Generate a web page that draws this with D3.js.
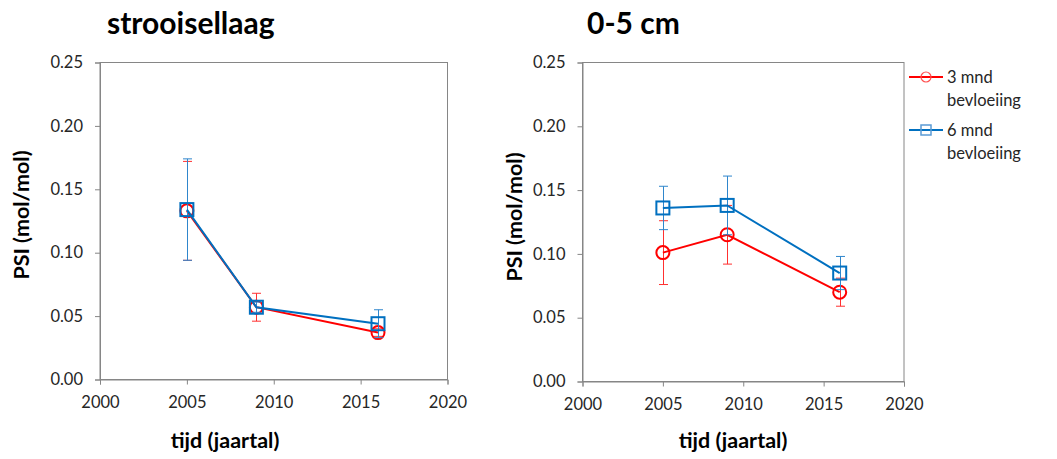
<!DOCTYPE html>
<html>
<head>
<meta charset="utf-8">
<script src="https://cdn.jsdelivr.net/npm/d3@7"></script>
<style>
  html, body { margin: 0; padding: 0; background: #fff; }
  svg { display: block; }
  text { font-family: Lato, "Open Sans", sans-serif; }
</style>
</head>
<body>
<svg id="chart" width="1057" height="459"></svg>
<script>
// ---- data ----
const years = [2005, 2009, 2016];
const xTicks = [2000, 2005, 2010, 2015, 2020];
const yTicks = [0, 0.05, 0.10, 0.15, 0.20, 0.25];
const seriesNames = ["3 mnd\nbevloeiing", "6 mnd\nbevloeiing"];

const strooiRed = [0.133, 0.057, 0.037];
const strooiRedErr = [0.039, 0.011, 0.003];
const strooiBlue = [0.134, 0.057, 0.044];
const strooiBlueErr = [0.040, 0.004, 0.011];

const cmRed = [0.101, 0.115, 0.070];
const cmRedErr = [0.025, 0.023, 0.011];
const cmBlue = [0.136, 0.138, 0.085];
const cmBlueErr = [0.017, 0.023, 0.013];

const RED = "#ff0000", BLUE = "#0070c0", FRAME = "#868686";
const RED_ERR = "#ff3030", BLUE_ERR = "#2f86cc";

const svg = d3.select("#chart");

function panel(cfg) {
  const g = svg.append("g");
  const x = d3.scaleLinear().domain([2000, 2020]).range([cfg.left, cfg.right]);
  const y = d3.scaleLinear().domain([0, 0.25]).range([cfg.bottom, cfg.top]);

  // frame
  g.append("rect").attr("x", cfg.left).attr("y", cfg.top)
    .attr("width", cfg.right - cfg.left).attr("height", cfg.bottom - cfg.top)
    .attr("fill", "none").attr("stroke", FRAME).attr("stroke-width", 1);

  const yAx = g.append("g").attr("transform", `translate(${cfg.left},0)`)
    .call(d3.axisLeft(y).tickValues(yTicks).tickFormat(d3.format(".2f")).tickSize(5).tickPadding(12));
  const xAx = g.append("g").attr("transform", `translate(0,${cfg.bottom})`)
    .call(d3.axisBottom(x).tickValues(xTicks).tickFormat(d3.format("d")).tickSize(5).tickPadding(12));
  [yAx, xAx].forEach(a => {
    a.select(".domain").attr("stroke", FRAME);
    a.selectAll(".tick line").attr("stroke", FRAME);
    a.selectAll(".tick text").attr("fill", "#262626").style("font-size", "16.5px")
      .style("font-family", "Lato, 'Open Sans', sans-serif");
  });

  // titles
  g.append("text").attr("x", cfg.titleX).attr("y", 34)
    .style("font-size", "30px").style("font-weight", "bold").attr("fill", "#000")
    .text(cfg.title);
  g.append("text").attr("x", cfg.xTitleX).attr("y", 448)
    .attr("text-anchor", "middle").style("font-size", "21.5px").style("font-weight", "bold")
    .text("tijd (jaartal)");
  g.append("text").attr("transform", `translate(${cfg.yTitleX},${cfg.yTitleY}) rotate(-90)`)
    .attr("text-anchor", "middle").style("font-size", "21.5px").style("font-weight", "bold")
    .text("PSI (mol/mol)");

  const series = [
    { vals: cfg.red, err: cfg.redErr, color: RED, errColor: RED_ERR, shape: "circle" },
    { vals: cfg.blue, err: cfg.blueErr, color: BLUE, errColor: BLUE_ERR, shape: "square" }
  ];
  const line = d3.line().x(d => x(d.yr)).y(d => y(d.v));
  series.forEach(s => {
    const pts = years.map((yr, i) => ({ yr, v: s.vals[i], e: s.err[i] }));
    const sg = g.append("g");
    // error bars
    pts.forEach(p => {
      const cx = Math.round(x(p.yr)) + 0.5;
      sg.append("line").attr("x1", cx).attr("x2", cx).attr("y1", y(p.v - p.e)).attr("y2", y(p.v + p.e))
        .attr("stroke", s.errColor).attr("stroke-width", 1);
      [p.v - p.e, p.v + p.e].forEach(v => {
        sg.append("line").attr("x1", cx - 4.5).attr("x2", cx + 4.5).attr("y1", y(v)).attr("y2", y(v))
          .attr("stroke", s.errColor).attr("stroke-width", 1);
      });
    });
    sg.append("path").datum(pts).attr("d", line).attr("fill", "none")
      .attr("stroke", s.color).attr("stroke-width", 2);
    pts.forEach(p => {
      if (s.shape === "circle") {
        sg.append("circle").attr("cx", x(p.yr)).attr("cy", y(p.v)).attr("r", 6.5)
          .attr("fill", "none").attr("stroke", s.color).attr("stroke-width", 2);
      } else {
        sg.append("rect").attr("x", x(p.yr) - 6.5).attr("y", y(p.v) - 6.5)
          .attr("width", 13).attr("height", 13)
          .attr("fill", "none").attr("stroke", s.color).attr("stroke-width", 2);
      }
    });
  });
}

panel({ left: 100, right: 447.5, top: 62.5, bottom: 379.5, title: "strooisellaag", titleX: 107,
  xTitleX: 225, yTitleX: 29, yTitleY: 215,
  red: strooiRed, redErr: strooiRedErr, blue: strooiBlue, blueErr: strooiBlueErr });
panel({ left: 582.5, right: 904, top: 62.5, bottom: 381.5, title: "0-5 cm", titleX: 587,
  xTitleX: 733, yTitleX: 522, yTitleY: 217,
  red: cmRed, redErr: cmRedErr, blue: cmBlue, blueErr: cmBlueErr });

// legend
const legend = svg.append("g");
const legendColors = [RED, BLUE];
const legendShapes = ["circle", "square"];
seriesNames.forEach((name, i) => {
  const yy = 77 + i * 53;
  legend.append("line").attr("x1", 909).attr("x2", 943).attr("y1", yy).attr("y2", yy)
    .attr("stroke", legendColors[i]).attr("stroke-width", 2);
  if (legendShapes[i] === "circle") {
    legend.append("circle").attr("cx", 926).attr("cy", yy).attr("r", 5)
      .attr("fill", "none").attr("stroke", "#ff5050").attr("stroke-width", 1.2);
  } else {
    legend.append("rect").attr("x", 921).attr("y", yy - 5).attr("width", 10).attr("height", 10)
      .attr("fill", "none").attr("stroke", "#5b9bd5").attr("stroke-width", 1.5);
  }
  name.split("\n").forEach((t, j) => {
    legend.append("text").attr("x", 947).attr("y", yy + j * 23).attr("dy", "0.35em")
      .style("font-size", "16.5px").attr("fill", "#262626").text(t);
  });
});
</script>
</body>
</html>
